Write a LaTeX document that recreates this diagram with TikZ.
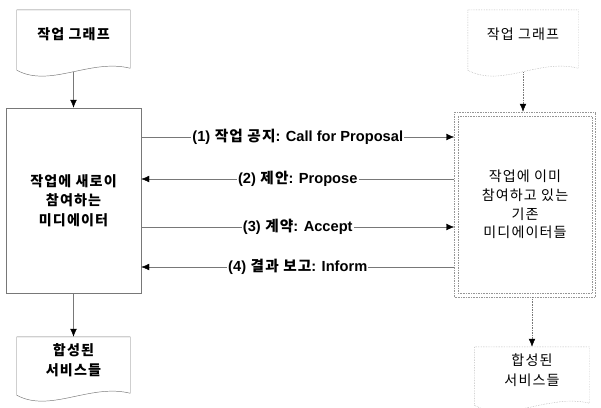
\documentclass[tikz,border=0pt]{standalone}
\usepackage{fontspec}
\setmainfont[LetterSpace=8]{Noto Sans CJK KR}
\newfontfamily\lat{Liberation Sans}
\usepackage{tikz}
\usetikzlibrary{calc, arrows.meta, positioning}
\definecolor{LineGray}{RGB}{120, 120, 120}
\definecolor{FaintGray}{RGB}{150, 150, 150}

% contorno de documento (borde inferior ondulado)
\newcommand{\docwave}[2][]{%
  \draw[#1] ([yshift=-0.36cm]#2.south west) -- (#2.north west) -- (#2.north east)
    -- ([yshift=-0.3cm]#2.south east)
    .. controls ([xshift=-1.2cm]#2.south east) and ([xshift=1cm, yshift=-0.9cm]#2.south west)
    .. ([yshift=-0.36cm]#2.south west) -- cycle;}

\begin{document}
\begin{tikzpicture}[x=0.03cm, y=-0.03cm,
    doc/.style={minimum width=3.39cm, minimum height=1.44cm, align=center,
                font=\bfseries\fontsize{12}{17}\selectfont},
    newbox/.style={draw=LineGray, thin, align=center, minimum width=4.05cm,
                   minimum height=5.55cm, font=\bfseries\fontsize{12}{16.5}\selectfont},
    oldbox/.style={draw=FaintGray, densely dotted, align=center, minimum width=4.23cm,
                   minimum height=5.55cm, font=\fontsize{12}{16}\selectfont},
    msg/.style={LineGray, thin, -{Latex[length=2.4mm, width=2mm, color=black]}},
    lab/.style={fill=white, text=black, inner sep=1pt, font=\bfseries\fontsize{12.5}{13}\selectfont}]
    \useasboundingbox (0,0) rectangle (601,407);

    % Lado izquierdo
    \node[doc] (ldoc) at (73.5,34) {작업 그래프};
    \docwave[LineGray, thin]{ldoc}
    \coordinate (ldocw) at ([yshift=-0.42cm]ldoc.south);
    \node[newbox] (lm) at (73.5,200.5) {작업에 새로이\\참여하는\\미디에이터};
    \node[doc, minimum height=1.38cm] (lout) at (73.5,360) {합성된\\서비스들};
    \docwave[LineGray, thin]{lout}
    \draw[msg] (ldocw) -- (lm.north);
    \draw[msg] (lm.south) -- (lout.north);

    % Lado derecho
    \node[doc, minimum width=3.3cm, font=\fontsize{12}{17}\selectfont] (rdoc) at (523,34) {작업 그래프};
    \docwave[FaintGray, densely dotted]{rdoc}
    \coordinate (rdocw) at ([yshift=-0.42cm]rdoc.south);
    \node[oldbox] (rm) at (525,204.5) {작업에 이미\\참여하고 있는\\기존\\미디에이터들};
    \draw[FaintGray, densely dotted] ([shift={(4,4)}]rm.north west) rectangle ([shift={(-4,-4)}]rm.south east);
    \node[doc, minimum width=3.45cm, minimum height=1.38cm, font=\fontsize{12}{17}\selectfont] (rout) at (532,370) {합성된\\서비스들};
    \docwave[FaintGray, densely dotted]{rout}
    \draw[msg, densely dotted] (rdocw) -- (rdocw |- rm.north);
    \draw[msg, densely dotted] (rout.north |- rm.south) -- (rout.north);

    % Mensajes
    \draw[msg] (lm.east |- 0,137) -- (rm.west |- 0,137) node[lab, midway] {{\lat (1)} 작업 공지{\lat : Call for Proposal}};
    \draw[msg] (rm.west |- 0,179) -- (lm.east |- 0,179) node[lab, midway] {{\lat (2)} 제안{\lat : Propose}};
    \draw[msg] (lm.east |- 0,227) -- (rm.west |- 0,227) node[lab, midway] {{\lat (3)} 계약{\lat : Accept}};
    \draw[msg] (rm.west |- 0,267) -- (lm.east |- 0,267) node[lab, midway] {{\lat (4)} 결과 보고{\lat : Inform}};
\end{tikzpicture}
\end{document}
